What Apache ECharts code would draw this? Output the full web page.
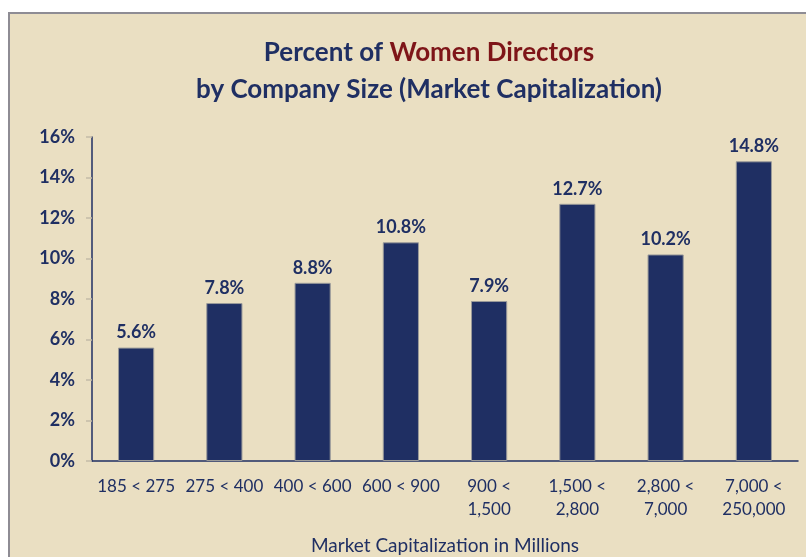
<!DOCTYPE html>
<html><head><meta charset="utf-8">
<script src="https://cdn.jsdelivr.net/npm/echarts@6/dist/echarts.min.js"></script>
<style>
html,body{margin:0;padding:0;background:#fff;width:806px;height:557px;overflow:hidden;}
#bg{position:absolute;left:8px;top:12px;width:798px;height:545px;background:#EADFC2;border-top:2px solid #8E8C94;border-left:2px solid #8E8C94;box-sizing:border-box;}
#c{position:absolute;left:0;top:0;width:806px;height:557px;}
</style></head>
<body><div id="bg"></div><div id="c"></div>
<script>
const categories = ['185 < 275','275 < 400','400 < 600','600 < 900','900 <\n1,500','1,500 <\n2,800','2,800 <\n7,000','7,000 <\n250,000'];
const values = [5.6, 7.8, 8.8, 10.8, 7.9, 12.7, 10.2, 14.8];
const yTicks = [0, 2, 4, 6, 8, 10, 12, 14, 16];
const navy = '#1F2F63';
const font = 'Lato, "Open Sans", sans-serif';
const chart = echarts.init(document.getElementById('c'));
chart.setOption({
  backgroundColor: 'transparent',
  animation: false,
  title: {
    text: '{n|Percent of }{r|Women Directors}\n{n|by Company Size (Market Capitalization)}',
    left: 424, top: 29, textAlign: 'center',
    textStyle: {
      rich: {
        n: {color: navy, fontSize: 26, fontFamily: font, lineHeight: 37},
        r: {color: '#7E1518', fontSize: 26, fontFamily: font, lineHeight: 37}
      }
    }
  },
  grid: {left: 92, right: 8, top: 137, bottom: 96, containLabel: false, outerBoundsMode: 'none'},
  xAxis: {
    type: 'category', data: categories,
    axisLine: {lineStyle: {color: navy, width: 1.5}},
    axisTick: {show: false},
    axisLabel: {color: navy, fontSize: 17, fontFamily: font, lineHeight: 23, margin: 14, interval: 0},
    name: 'Market Capitalization in Millions', nameLocation: 'middle', nameGap: 75,
    nameTextStyle: {color: navy, fontSize: 19, fontFamily: font}
  },
  yAxis: {
    type: 'value', min: yTicks[0], max: yTicks[yTicks.length-1], interval: 2,
    axisLine: {show: true, lineStyle: {color: navy, width: 1.5}},
    axisTick: {show: true, length: 6, lineStyle: {color: '#C4BCA8', width: 1.5}},
    splitLine: {show: false},
    axisLabel: {color: navy, fontSize: 18, fontWeight: 'bold', fontFamily: font, margin: 17, formatter: '{value}%'}
  },
  series: [{
    type: 'bar', data: values, barWidth: '41%',
    itemStyle: {color: navy, borderColor: '#9A9A9A', borderWidth: 1},
    label: {show: true, position: 'top', distance: 6, color: navy, fontSize: 18, fontWeight: 'bold', fontFamily: font,
      formatter: p => p.value.toFixed(1) + '%'}
  }]
});
</script></body></html>
